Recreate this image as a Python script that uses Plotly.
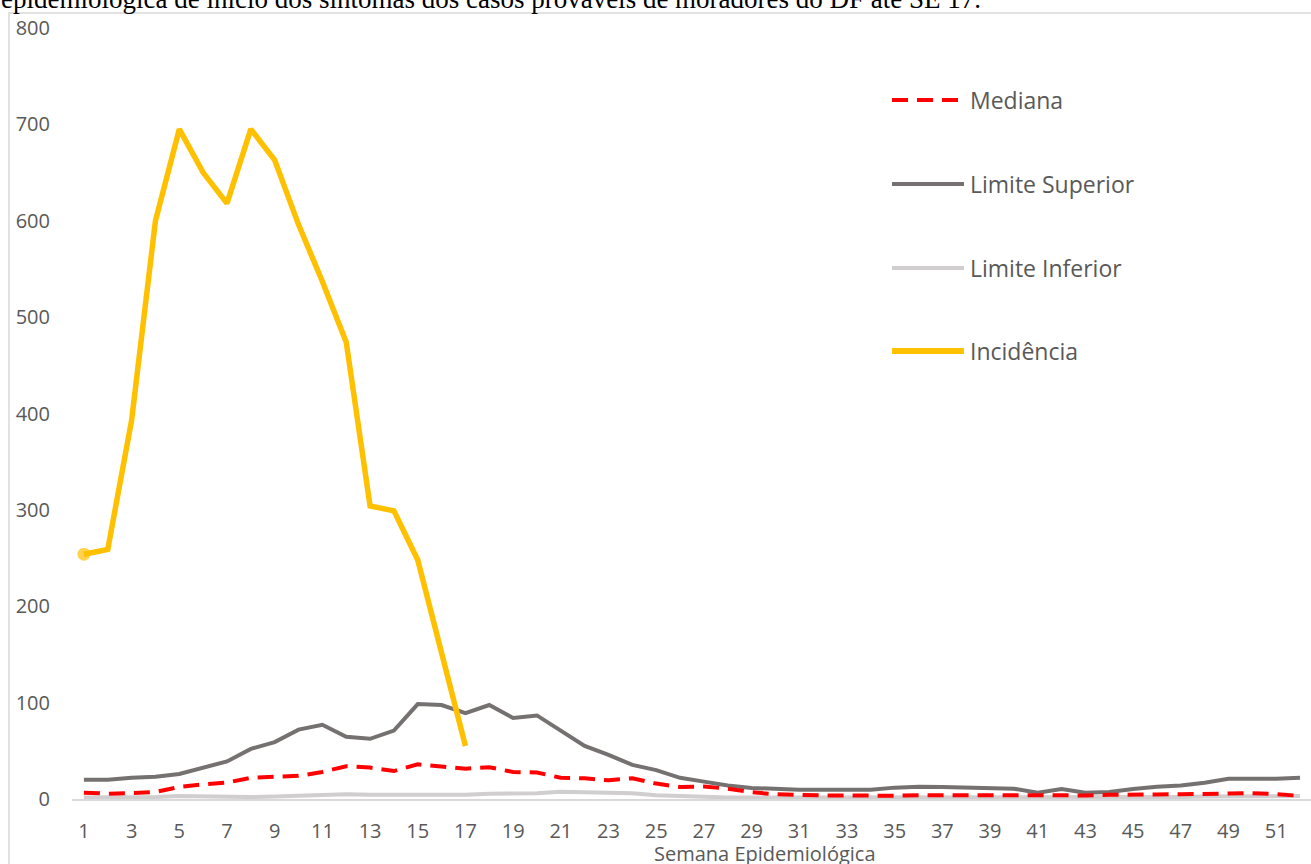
import plotly.graph_objects as go

# ---- data ----
weeks = list(range(1, 53))
week_ticks = list(range(1, 52, 2))

mediana = [6.6, 5.5, 6, 7.3, 12.5, 15.3, 17, 22, 23, 24,
           28, 34, 32.6, 29, 36, 34, 31.5, 33, 28, 27.5,
           22, 21.5, 19.4, 21.5, 16, 12.5, 13, 10.7, 7, 4.9,
           4, 3.7, 3.7, 3, 3.3, 4, 3.7, 4, 4, 4,
           3.7, 3.7, 3.7, 4.3, 5, 4.7, 5, 5.3, 6.6, 6,
           5, 3.3]
limite_superior = [20, 20, 22, 23, 26, 33, 39, 52, 59, 72,
                   77, 64.5, 62.5, 71, 98.5, 97.5, 89, 97.5, 84, 86.7,
                   70.7, 55, 45.8, 35.4, 30, 22, 18, 14, 11.4, 10.4,
                   9.7, 9.7, 9.7, 9.7, 11.8, 12.8, 12.5, 11.8, 11, 10.7,
                   6.6, 10.4, 6.6, 7.3, 10.4, 12.8, 14, 16.8, 21, 20.5,
                   21, 22]
limite_inferior = [1.5, 1.5, 1.5, 2, 3, 2.5, 2, 2, 2.5, 3.5,
                   4, 5, 4.5, 4.5, 4.5, 4, 4.5, 5.5, 5.5, 6,
                   7.5, 7, 6.5, 6, 4, 3, 2, 1.5, 1.5, 1.5,
                   1.5, 1.5, 1, 1, 1, 1, 1, 1, 1, 1.5,
                   1.5, 1.5, 1.5, 1.5, 1.5, 2, 2, 2.5, 2.5, 3,
                   3, 3]
incidencia = [254, 259, 393, 600, 695, 650, 618, 695, 663, 596,
              537, 474, 304, 299, 248, 154, 55]

caption = "epidemiológica de início dos sintomas dos casos prováveis de moradores do DF até SE 17."

# ---- styles ----
C_MED = "#FF0000"
C_SUP = "#767171"
C_INF = "#D0CECE"
C_INC = "#FFC000"
TXT = "#595959"
FONT = "Open Sans"

W, H = 1311, 864
ML, MR, MT, MB = 72, 0, 28, 65
PW, PH = W - ML - MR, H - MT - MB


def px_x(p):
    return (p - ML) / PW


def px_y(p):
    return (H - MB - p) / PH


fig = go.Figure()
fig.add_trace(go.Scatter(x=weeks, y=limite_inferior, mode="lines", name="Limite Inferior",
                         line=dict(color=C_INF, width=4), showlegend=False))
fig.add_trace(go.Scatter(x=weeks, y=limite_superior, mode="lines", name="Limite Superior",
                         line=dict(color=C_SUP, width=4), showlegend=False))
fig.add_trace(go.Scatter(x=weeks, y=mediana, mode="lines", name="Mediana",
                         line=dict(color=C_MED, width=4, dash="16px,9px"), showlegend=False))
fig.add_trace(go.Scatter(x=weeks[:len(incidencia)], y=incidencia, mode="lines+markers",
                         name="Incidência",
                         line=dict(color=C_INC, width=5.5),
                         marker=dict(color=C_INC, size=[13] + [0] * (len(incidencia) - 1),
                                     line=dict(width=0)),
                         showlegend=False))

shapes = []
annotations = []

# chart-area border
shapes.append(dict(type="rect", xref="paper", yref="paper",
                   x0=px_x(9), x1=px_x(1320), y0=px_y(900), y1=px_y(13),
                   line=dict(color="#D9D9D9", width=1.5), fillcolor="rgba(0,0,0,0)", layer="below"))

# legend (drawn manually to match sample length and spacing)
legend_items = [
    ("Mediana", C_MED, 4, "16px,9px", 100),
    ("Limite Superior", C_SUP, 4, "solid", 184),
    ("Limite Inferior", C_INF, 4, "solid", 268),
    ("Incidência", C_INC, 6, "solid", 351),
]
for name, col, wdt, dash, ypix in legend_items:
    shapes.append(dict(type="line", xref="paper", yref="paper",
                       x0=px_x(892), x1=px_x(964), y0=px_y(ypix), y1=px_y(ypix),
                       line=dict(color=col, width=wdt, dash=dash)))
    annotations.append(dict(text=name, xref="paper", yref="paper", x=px_x(968), y=px_y(ypix),
                            xanchor="left", yanchor="middle", showarrow=False,
                            font=dict(family=FONT, size=23, color=TXT)))

# axis title
annotations.append(dict(text="Semana Epidemiológica", xref="paper", yref="paper",
                        x=px_x(765), y=px_y(853), xanchor="center", yanchor="middle",
                        showarrow=False, font=dict(family=FONT, size=20, color=TXT)))

# cropped caption at top
annotations.append(dict(text=caption, xref="paper", yref="paper",
                        x=px_x(-1), y=px_y(-1), xanchor="left", yanchor="middle",
                        showarrow=False,
                        font=dict(family="Liberation Serif", size=27, color="#000000")))

fig.update_layout(
    width=W, height=H,
    margin=dict(l=ML, r=MR, t=MT, b=MB, autoexpand=False),
    paper_bgcolor="white", plot_bgcolor="white",
    showlegend=False,
    shapes=shapes, annotations=annotations,
    xaxis=dict(range=[0.5, 52.46], tickmode="array", tickvals=week_ticks,
               ticktext=[str(t) for t in week_ticks],
               showgrid=False, zeroline=False, showline=True, linecolor="#D9D9D9", linewidth=1.5,
               ticks="", ticklabelstandoff=13,
               tickfont=dict(family=FONT, size=20, color=TXT)),
    yaxis=dict(range=[0, 800], tickmode="array", tickvals=list(range(0, 801, 100)),
               showgrid=False, zeroline=False, showline=False, ticks="",
               ticklabelstandoff=21,
               tickfont=dict(family=FONT, size=20, color=TXT)),
)

fig.write_html("out.html")
